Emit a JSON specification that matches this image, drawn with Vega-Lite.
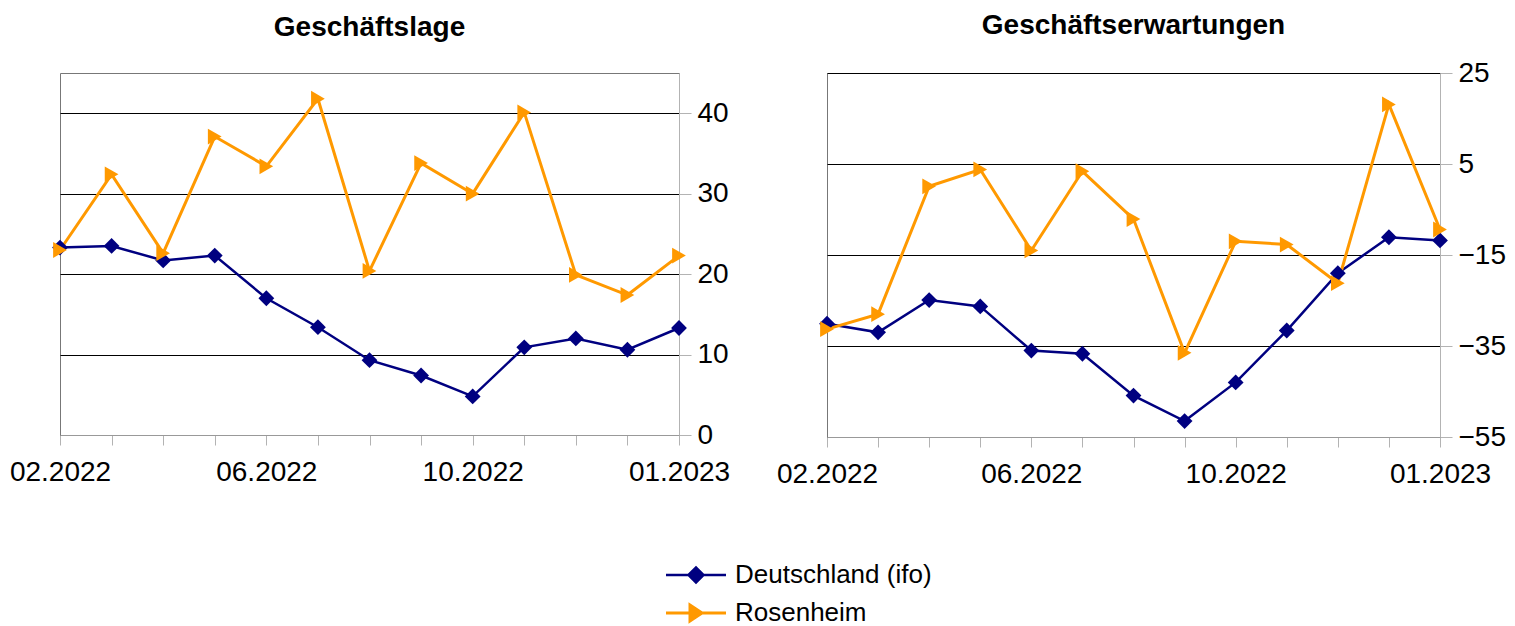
{
  "$schema": "https://vega.github.io/schema/vega-lite/v6.json",
  "background": "white",
  "padding": {"left": 8, "top": 11, "right": 5, "bottom": 5},
  "bounds": "flush",
  "spacing": 148,
  "data": {
    "values": [
      {"i": 0, "s": "Deutschland (ifo)", "lage": 23.3, "erw": -30.1},
      {"i": 1, "s": "Deutschland (ifo)", "lage": 23.5, "erw": -32.0},
      {"i": 2, "s": "Deutschland (ifo)", "lage": 21.7, "erw": -24.9},
      {"i": 3, "s": "Deutschland (ifo)", "lage": 22.3, "erw": -26.3},
      {"i": 4, "s": "Deutschland (ifo)", "lage": 17.0, "erw": -36.0},
      {"i": 5, "s": "Deutschland (ifo)", "lage": 13.4, "erw": -36.7},
      {"i": 6, "s": "Deutschland (ifo)", "lage": 9.3, "erw": -45.9},
      {"i": 7, "s": "Deutschland (ifo)", "lage": 7.4, "erw": -51.5},
      {"i": 8, "s": "Deutschland (ifo)", "lage": 4.8, "erw": -43.0},
      {"i": 9, "s": "Deutschland (ifo)", "lage": 10.9, "erw": -31.6},
      {"i": 10, "s": "Deutschland (ifo)", "lage": 12.0, "erw": -19.0},
      {"i": 11, "s": "Deutschland (ifo)", "lage": 10.6, "erw": -11.1},
      {"i": 12, "s": "Deutschland (ifo)", "lage": 13.3, "erw": -11.8},
      {"i": 0, "s": "Rosenheim", "lage": 23.0, "erw": -31.3},
      {"i": 1, "s": "Rosenheim", "lage": 32.4, "erw": -28.0},
      {"i": 2, "s": "Rosenheim", "lage": 22.6, "erw": 0.1},
      {"i": 3, "s": "Rosenheim", "lage": 37.1, "erw": 3.8},
      {"i": 4, "s": "Rosenheim", "lage": 33.4, "erw": -14.0},
      {"i": 5, "s": "Rosenheim", "lage": 41.8, "erw": 3.4},
      {"i": 6, "s": "Rosenheim", "lage": 20.4, "erw": -7.1},
      {"i": 7, "s": "Rosenheim", "lage": 33.8, "erw": -36.5},
      {"i": 8, "s": "Rosenheim", "lage": 30.0, "erw": -12.0},
      {"i": 9, "s": "Rosenheim", "lage": 40.1, "erw": -12.7},
      {"i": 10, "s": "Rosenheim", "lage": 19.9, "erw": -21.2},
      {"i": 11, "s": "Rosenheim", "lage": 17.4, "erw": 18.1},
      {"i": 12, "s": "Rosenheim", "lage": 22.3, "erw": -9.4}
    ]
  },
  "config": {
    "font": "Liberation Sans",
    "view": {"stroke": "#777777", "strokeWidth": 1},
    "axis": {
      "labelFont": "Liberation Sans",
      "labelFontSize": 28,
      "labelColor": "#000000",
      "tickColor": "#b3b3b3",
      "domainColor": "#b3b3b3",
      "gridColor": "#000000",
      "gridWidth": 1,
      "title": null
    },
    "title": {"font": "Liberation Sans", "fontSize": 28, "fontWeight": "bold", "color": "#000000", "anchor": "middle", "frame": "group"}
  },
  "hconcat": [
    {
      "title": {"text": "Geschäftslage", "offset": 31},
      "width": 619,
      "height": 362,
      "encoding": {
        "x": {
          "field": "i", "type": "ordinal",
          "scale": {"type": "point", "padding": 0},
          "axis": {
            "labelAngle": 0, "labelOverlap": false, "grid": false,
            "tickSize": 10, "labelPadding": 13, "domainColor": "#999999",
            "labelExpr": "datum.value === 0 ? '02.2022' : datum.value === 4 ? '06.2022' : datum.value === 8 ? '10.2022' : datum.value === 12 ? '01.2023' : ''"
          }
        },
        "y": {
          "field": "lage", "type": "quantitative",
          "scale": {"domain": [0, 45], "nice": false, "zero": false},
          "axis": {"orient": "right", "values": [0, 10, 20, 30, 40], "tickSize": 12, "labelPadding": 6, "grid": true}
        },
        "color": {
          "field": "s", "type": "nominal",
          "scale": {"domain": ["Deutschland (ifo)", "Rosenheim"], "range": ["#000080", "#ff9900"]},
          "legend": {
            "title": null, "orient": "none", "legendX": 603, "legendY": 489, "direction": "vertical",
            "labelFontSize": 26, "labelColor": "#000000", "labelFont": "Liberation Sans", "labelLimit": 0,
            "symbolSize": 400, "symbolStrokeWidth": 2, "labelOffset": 46, "rowPadding": 11,
            "encode": {"symbols": {"update": {
              "shape": {"signal": "datum.value === 'Rosenheim' ? 'M-1,0H5M2.6,0L1.4,-0.8L1.4,0.8Z' : 'M-1,0H5M1.25,0L2,-0.75L2.75,0L2,0.75Z'"},
              "fill": {"signal": "datum.value === 'Rosenheim' ? '#ff9900' : '#000080'"},
              "stroke": {"signal": "datum.value === 'Rosenheim' ? '#ff9900' : '#000080'"},
              "fillOpacity": {"value": 1},
              "opacity": {"value": 1}
            }}}
          }
        }
      },
      "layer": [
        {"mark": {"type": "line"},
         "encoding": {"strokeWidth": {"field": "s", "type": "nominal", "scale": {"domain": ["Deutschland (ifo)", "Rosenheim"], "range": [2.5, 3]}, "legend": null}}},
        {"transform": [{"filter": "datum.s === 'Deutschland (ifo)'"}],
         "mark": {"type": "point", "shape": "diamond", "filled": true, "opacity": 1, "size": 250, "strokeWidth": 0}},
        {"transform": [{"filter": "datum.s === 'Rosenheim'"}],
         "mark": {"type": "point", "shape": "triangle-right", "filled": true, "opacity": 1, "size": 250, "strokeWidth": 0}}
      ]
    },
    {
      "title": {"text": "Geschäftserwartungen", "offset": 19},
      "width": 613,
      "height": 364,
      "encoding": {
        "x": {
          "field": "i", "type": "ordinal",
          "scale": {"type": "point", "padding": 0},
          "axis": {
            "labelAngle": 0, "labelOverlap": false, "grid": false,
            "tickSize": 10, "labelPadding": 13, "domainColor": "#999999",
            "labelExpr": "datum.value === 0 ? '02.2022' : datum.value === 4 ? '06.2022' : datum.value === 8 ? '10.2022' : datum.value === 12 ? '01.2023' : ''"
          }
        },
        "y": {
          "field": "erw", "type": "quantitative",
          "scale": {"domain": [-55, 25], "nice": false, "zero": false},
          "axis": {"orient": "right", "values": [-55, -35, -15, 5, 25], "tickSize": 12, "labelPadding": 6, "grid": true}
        },
        "color": {
          "field": "s", "type": "nominal",
          "scale": {"domain": ["Deutschland (ifo)", "Rosenheim"], "range": ["#000080", "#ff9900"]},
          "legend": {
            "title": null, "orient": "none", "legendX": 603, "legendY": 489, "direction": "vertical",
            "labelFontSize": 26, "labelColor": "#000000", "labelFont": "Liberation Sans", "labelLimit": 0,
            "symbolSize": 400, "symbolStrokeWidth": 2, "labelOffset": 46, "rowPadding": 11,
            "encode": {"symbols": {"update": {
              "shape": {"signal": "datum.value === 'Rosenheim' ? 'M-1,0H5M2.6,0L1.4,-0.8L1.4,0.8Z' : 'M-1,0H5M1.25,0L2,-0.75L2.75,0L2,0.75Z'"},
              "fill": {"signal": "datum.value === 'Rosenheim' ? '#ff9900' : '#000080'"},
              "stroke": {"signal": "datum.value === 'Rosenheim' ? '#ff9900' : '#000080'"},
              "fillOpacity": {"value": 1},
              "opacity": {"value": 1}
            }}}
          }
        }
      },
      "layer": [
        {"mark": {"type": "line"},
         "encoding": {"strokeWidth": {"field": "s", "type": "nominal", "scale": {"domain": ["Deutschland (ifo)", "Rosenheim"], "range": [2.5, 3]}, "legend": null}}},
        {"transform": [{"filter": "datum.s === 'Deutschland (ifo)'"}],
         "mark": {"type": "point", "shape": "diamond", "filled": true, "opacity": 1, "size": 250, "strokeWidth": 0}},
        {"transform": [{"filter": "datum.s === 'Rosenheim'"}],
         "mark": {"type": "point", "shape": "triangle-right", "filled": true, "opacity": 1, "size": 250, "strokeWidth": 0}}
      ]
    }
  ]
}
